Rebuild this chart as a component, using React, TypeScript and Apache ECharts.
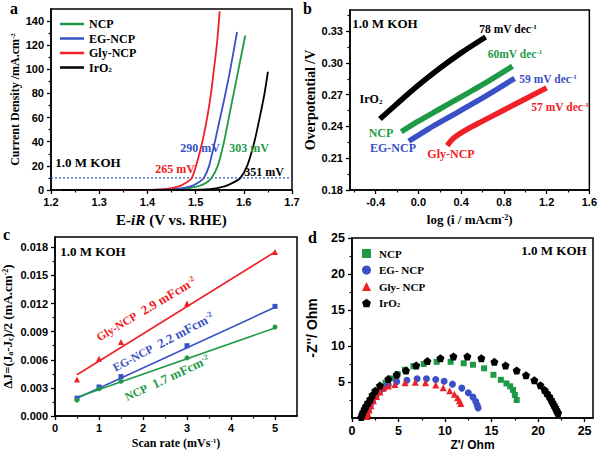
import React, { useEffect, useRef } from 'react';
import * as echarts from 'echarts';

const SERIF = "'Liberation Serif', 'Times New Roman', serif";
const SANS = "'Liberation Sans', Arial, sans-serif";
const GREEN = '#1e9a46';
const BLUE = '#3a50c6';
const RED = '#f02126';
const BLACK = '#000000';

// ---------- (a) polarization curves: [E-iR (V), J (mA/cm2)] ----------
const aNCP = [[1.22, 0], [1.42, 0.1], [1.47, 0.8], [1.5, 2.5], [1.52, 5.5], [1.533, 10], [1.546, 20], [1.559, 40], [1.569, 60], [1.579, 80], [1.589, 100], [1.603, 128]];
const aEG = [[1.22, 0], [1.41, 0.1], [1.46, 1], [1.49, 3], [1.505, 6], [1.517, 10], [1.528, 20], [1.54, 40], [1.551, 60], [1.562, 80], [1.572, 100], [1.586, 131]];
const aGly = [[1.22, 0], [1.39, 0.1], [1.44, 1], [1.465, 3], [1.48, 6], [1.492, 10], [1.501, 20], [1.514, 40], [1.524, 60], [1.532, 80], [1.538, 100], [1.544, 120], [1.55, 148]];
const aIrO2 = [[1.22, 0], [1.48, 0.1], [1.53, 0.8], [1.56, 3], [1.58, 6.5], [1.593, 10], [1.607, 20], [1.622, 40], [1.633, 60], [1.643, 80], [1.65, 98]];
const aRefLine = [[1.2, 10], [1.7, 10]];
const aXTicks = [1.2, 1.3, 1.4, 1.5, 1.6, 1.7];
const aXMinor = [1.25, 1.35, 1.45, 1.55, 1.65];
const aYTicks = [0, 20, 40, 60, 80, 100, 120, 140];
const aYMinor = [10, 30, 50, 70, 90, 110, 130];

// ---------- (b) Tafel plots: [log i, overpotential] ----------
const bIrO2 = [[-0.36, 0.247], [-0.2, 0.2615], [0, 0.279], [0.2, 0.295], [0.4, 0.3095], [0.63, 0.3245]];
const bNCP = [[-0.16, 0.235], [0, 0.245], [0.2, 0.2565], [0.4, 0.268], [0.6, 0.2795], [0.88, 0.297]];
const bEG = [[-0.09, 0.226], [0.1, 0.238], [0.3, 0.2495], [0.5, 0.261], [0.7, 0.273], [0.9, 0.2855]];
const bGly = [[0.27, 0.222], [0.33, 0.229], [0.45, 0.237], [0.6, 0.245], [0.8, 0.2555], [1.0, 0.266], [1.2, 0.2765]];
const bXTicks = [-0.4, 0, 0.4, 0.8, 1.2, 1.6];
const bXMinor = [-0.6, -0.2, 0.2, 0.6, 1.0, 1.4];
const bYTicks = [0.18, 0.21, 0.24, 0.27, 0.3, 0.33];
const bYMinor = [0.195, 0.225, 0.255, 0.285, 0.315, 0.345];

// ---------- (c) double-layer capacitance ----------
const cScanRates = [0.5, 1, 1.5, 3, 5];
const cGly = [0.0039, 0.0061, 0.0079, 0.012, 0.0175];
const cEG = [0.0019, 0.0031, 0.0042, 0.0075, 0.0117];
const cNCP = [0.0017, 0.0029, 0.0037, 0.0062, 0.0095];
const cFitX = [0.5, 5];
const cGlyFit = [0.0044, 0.0175];
const cEGFit = [0.0019, 0.0116];
const cNCPFit = [0.002, 0.0094];
const cXTicks = [0, 1, 2, 3, 4, 5];
const cXMinor = [0.5, 1.5, 2.5, 3.5, 4.5];
const cYTicks = [0, 0.003, 0.006, 0.009, 0.012, 0.015, 0.018];
const cYMinor = [0.0015, 0.0045, 0.0075, 0.0105, 0.0135, 0.0165];

// ---------- (d) Nyquist plots: [Z', -Z''] ----------
const dNCP = [[1.3, 0.3], [1.45, 0.8], [1.6, 1.3], [1.8, 1.8], [2.05, 2.4], [2.35, 3.0], [2.7, 3.6], [3.1, 4.2], [3.6, 4.9], [4.2, 5.5], [4.9, 6.1], [5.7, 6.7], [6.6, 7.2], [7.7, 7.5], [9.1, 7.8], [10.6, 7.8], [12.0, 7.6], [13.0, 7.4], [14.2, 6.9], [15.2, 6.0], [16.0, 5.3], [16.6, 4.8], [17.0, 4.4], [17.3, 3.9], [17.5, 3.2], [17.7, 2.5]];
const dEG = [[1.5, 0.2], [1.6, 0.6], [1.75, 1.1], [1.95, 1.7], [2.2, 2.3], [2.55, 3.0], [2.95, 3.6], [3.4, 4.1], [3.9, 4.6], [4.8, 5.05], [5.9, 5.25], [7.0, 5.45], [8.0, 5.45], [9.0, 5.35], [9.9, 5.1], [10.8, 4.7], [11.8, 4.15], [12.5, 3.5], [13.0, 2.9], [13.3, 2.3], [13.45, 1.8], [13.55, 1.4]];
const dGly = [[1.6, 0.2], [1.7, 0.6], [1.85, 1.1], [2.05, 1.7], [2.3, 2.4], [2.65, 3.0], [3.0, 3.6], [3.4, 4.2], [3.9, 4.45], [4.6, 4.65], [5.7, 4.9], [6.8, 4.95], [7.9, 4.9], [9.0, 4.6], [9.8, 4.2], [10.5, 3.8], [11.0, 3.3], [11.35, 2.8], [11.55, 2.4], [11.7, 2.0]];
const dIrO2 = [[1.0, 0.15], [1.1, 0.5], [1.2, 0.85], [1.35, 1.25], [1.5, 1.65], [1.7, 2.1], [1.95, 2.6], [2.2, 3.2], [2.5, 3.8], [3.0, 4.5], [3.9, 5.4], [4.8, 6.0], [5.8, 6.6], [6.9, 7.3], [8.1, 7.9], [9.5, 8.3], [10.9, 8.55], [12.4, 8.55], [13.9, 8.3], [15.3, 7.8], [16.5, 7.3], [17.7, 6.6], [18.7, 5.95], [19.6, 5.25], [20.25, 4.55], [20.7, 3.9], [20.95, 3.45], [21.2, 3.0], [21.4, 2.55], [21.55, 2.15], [21.7, 1.8], [21.85, 1.45], [21.95, 1.15], [22.05, 0.9], [22.15, 0.7]];
const dXTicks = [0, 5, 10, 15, 20, 25];
const dXMinor = [2.5, 7.5, 12.5, 17.5, 22.5];
const dYTicks = [5, 10, 15, 20, 25];
const dYMinor = [2.5, 7.5, 12.5, 17.5, 22.5];

function rich(size: number, family: string, color: string) {
  const s = Math.round(size * 0.62);
  const base = { fontFamily: family, fontWeight: 'bold', color, fill: color };
  return {
    sup: { ...base, fontSize: s, verticalAlign: 'top' },
    sub: { ...base, fontSize: s, verticalAlign: 'bottom' },
    it: { ...base, fontSize: size, fontStyle: 'italic' },
    n: { ...base, fontSize: size - 1.5 },
    v: { ...base, fontSize: size + 1 },
  };
}

function mkAxes(dim: 'x' | 'y', gridIndex: number, min: number, max: number, ticks: number[], minor: number[], fmt: (v: number) => string, labelSize: number, name: string, nameGap: number, nameFamily: string, nameSize: number) {
  const isY = dim === 'y';
  const position = isY ? 'left' : 'bottom';
  const main: any = {
    type: 'value', gridIndex, min, max, position,
    axisLine: { show: true, onZero: false, lineStyle: { color: '#000', width: 1.5 } },
    axisTick: { show: true, customValues: ticks, length: 4, lineStyle: { color: '#000', width: 1.3 } },
    axisLabel: { show: true, customValues: ticks, formatter: fmt, color: '#000', fontFamily: SANS, fontWeight: 'bold', fontSize: labelSize, margin: isY ? 7 : 6 },
    splitLine: { show: false },
    name, nameLocation: 'middle', nameGap, nameRotate: isY ? 90 : 0,
    nameTextStyle: { fontFamily: nameFamily, fontWeight: 'bold', fontSize: nameSize, color: '#000', rich: rich(nameSize, nameFamily, '#000') },
  };
  const mn: any = {
    type: 'value', gridIndex, min, max, position,
    axisLine: { show: false, onZero: false },
    axisTick: { show: true, customValues: minor, length: 2.5, lineStyle: { color: '#000', width: 1.2 } },
    axisLabel: { show: false },
    splitLine: { show: false },
  };
  return [main, mn];
}

function txt(x: number, y: number, text: string, fill: string, size: number, rotationDeg = 0, family = SERIF, align = 'center') {
  return {
    type: 'text', x, y, rotation: (rotationDeg * Math.PI) / 180, z: 100,
    style: { text, fill, fontFamily: family, fontWeight: 'bold', fontSize: size, align, verticalAlign: 'middle', rich: rich(size, family, fill) },
  };
}

const lineS = (name: string, data: number[][], color: string, xi: number, yi: number, width: number, smooth: number | boolean = 0.3) => ({
  type: 'line', name, data, xAxisIndex: xi, yAxisIndex: yi, symbol: 'none', smooth,
  lineStyle: { color, width }, itemStyle: { color }, z: 3,
});

const scatterS = (name: string, data: number[][], color: string, symbol: string, size: number, xi: number, yi: number) => ({
  type: 'scatter', name, data, xAxisIndex: xi, yAxisIndex: yi, symbol, symbolSize: size, itemStyle: { color, opacity: 1 }, z: 4,
});

const PENTAGON = 'path://M0,-10 L9.5,-3.1 L5.9,8.1 L-5.9,8.1 L-9.5,-3.1 Z';

export default function App() {
  const ref = useRef<HTMLDivElement>(null);
  useEffect(() => {
    if (!ref.current) return;
    const chart = echarts.init(ref.current, undefined, { renderer: 'svg' });
    const f1 = (v: number) => v.toFixed(1);
    const f2 = (v: number) => v.toFixed(2);
    const f3 = (v: number) => v.toFixed(3);
    const f0 = (v: number) => String(Math.round(v));

    const xAxis = [
      ...mkAxes('x', 0, 1.2, 1.7, aXTicks, aXMinor, f1, 11, 'E-{it|iR} (V vs. RHE)', 22, SERIF, 15),
      ...mkAxes('x', 1, -0.64, 1.6, bXTicks, bXMinor, f1, 11, 'log (i / mAcm{sup|-2})', 23, SERIF, 13),
      ...mkAxes('x', 2, 0, 5.5, cXTicks, cXMinor, f0, 11, 'Scan rate (mVs{sup|-1})', 21, SERIF, 12),
      ...mkAxes('x', 3, 0, 25.9, dXTicks, dXMinor, f0, 12.5, "Z'/ Ohm", 21, SANS, 12),
    ];
    const yAxis = [
      ...mkAxes('y', 0, 0, 150, aYTicks, aYMinor, f0, 11, 'Current Density /mA.cm{sup|-2}', 30, SERIF, 12),
      ...mkAxes('y', 1, 0.18, 0.35, bYTicks, bYMinor, f2, 11, 'Overpotential /V', 31, SERIF, 14),
      ...mkAxes('y', 2, 0, 0.0191, cYTicks, cYMinor, f3, 11, '\u0394J=(J{sub|a}-J{sub|c})/2 (mA.cm{sup|-2})', 41, SERIF, 13),
      ...mkAxes('y', 3, 0, 25, dYTicks, dYMinor, f0, 12.5, "-Z''/ Ohm", 33, SANS, 14),
    ];

    const series: any[] = [
      // (a)
      lineS('NCP', aNCP, GREEN, 0, 0, 1.8, 0.25),
      lineS('EG-NCP', aEG, BLUE, 0, 0, 1.8, 0.25),
      lineS('Gly-NCP', aGly, RED, 0, 0, 1.8, 0.25),
      lineS('IrO2', aIrO2, BLACK, 0, 0, 1.8, 0.25),
      { type: 'line', name: 'a-ref', data: aRefLine, xAxisIndex: 0, yAxisIndex: 0, symbol: 'none', lineStyle: { color: BLUE, width: 1.2, type: [2, 2] }, z: 2 },
      // (b)
      lineS('b-IrO2', bIrO2, BLACK, 2, 2, 5.5, 0.3),
      lineS('b-NCP', bNCP, GREEN, 2, 2, 5.5, 0.3),
      lineS('b-EG', bEG, BLUE, 2, 2, 5.5, 0.3),
      lineS('b-Gly', bGly, RED, 2, 2, 5.5, 0.3),
      // (c)
      lineS('c-Gly-fit', cFitX.map((x, i) => [x, cGlyFit[i]]), RED, 4, 4, 1.6, false),
      lineS('c-EG-fit', cFitX.map((x, i) => [x, cEGFit[i]]), BLUE, 4, 4, 1.6, false),
      lineS('c-NCP-fit', cFitX.map((x, i) => [x, cNCPFit[i]]), GREEN, 4, 4, 1.6, false),
      scatterS('c-Gly', cScanRates.map((x, i) => [x, cGly[i]]), RED, 'triangle', 6, 4, 4),
      scatterS('c-EG', cScanRates.map((x, i) => [x, cEG[i]]), BLUE, 'rect', 5, 4, 4),
      scatterS('c-NCP', cScanRates.map((x, i) => [x, cNCP[i]]), GREEN, 'circle', 5, 4, 4),
      // (d)
      scatterS('d:NCP', dNCP, GREEN, 'rect', 6, 6, 6),
      scatterS('d:EG- NCP', dEG, BLUE, 'circle', 7, 6, 6),
      scatterS('d:Gly- NCP', dGly, RED, 'triangle', 7, 6, 6),
      scatterS('d:IrO2', dIrO2, BLACK, PENTAGON, 8, 6, 6),
    ];

    const legendText = (size: number) => ({ fontFamily: SERIF, fontWeight: 'bold', fontSize: size, color: '#000', rich: rich(size, SERIF, '#000') });
    const fmtName = (name: string) => {
      const n = name.replace('d:', '');
      return n === 'IrO2' ? 'IrO{sub|2}' : n;
    };

    chart.setOption({
      animation: false,
      backgroundColor: '#ffffff',
      grid: [
        { left: 51, top: 9, width: 241, height: 181 },
        { left: 350, top: 10, width: 241, height: 180 },
        { left: 55, top: 237, width: 242, height: 179 },
        { left: 352, top: 238, width: 241, height: 180 },
      ].map((g) => ({ ...g, show: true, borderColor: '#000', borderWidth: 1.5, backgroundColor: 'transparent', containLabel: false })),
      xAxis,
      yAxis,
      legend: [
        {
          data: ['NCP', 'EG-NCP', 'Gly-NCP', 'IrO2'], orient: 'vertical', left: 55, top: 13, icon: 'rect',
          itemWidth: 24, itemHeight: 2.5, itemGap: 2.5, formatter: fmtName, textStyle: legendText(12), selectedMode: false,
        },
        {
          data: ['d:NCP', 'd:EG- NCP', 'd:Gly- NCP', 'd:IrO2'], orient: 'vertical', left: 357, top: 243,
          itemWidth: 9, itemHeight: 9, itemGap: 5.5, formatter: fmtName, textStyle: { ...legendText(11), padding: [0, 0, 0, 3] }, selectedMode: false,
        },
      ],
      series,
      graphic: [
        // panel letters
        txt(10, 8, 'a', BLACK, 16, 0, SERIF, 'left'),
        txt(303, 8, 'b', BLACK, 16, 0, SERIF, 'left'),
        txt(3, 234.5, 'c', BLACK, 16, 0, SERIF, 'left'),
        txt(308, 237.5, 'd', BLACK, 16, 0, SERIF, 'left'),
        // (a)
        txt(88, 162, '1.0 M KOH', BLACK, 13),
        txt(175, 169, '265 mV', RED, 12),
        txt(200, 148, '290 mV', BLUE, 12),
        txt(249, 148, '303 mV', GREEN, 12),
        txt(264, 172, '351 mV', BLACK, 12),
        // (b)
        txt(385, 23, '1.0 M KOH', BLACK, 13),
        txt(508, 29, '78 mV dec{sup|-1}', BLACK, 11.5),
        txt(515, 54, '60mV dec{sup|-1}', GREEN, 11.5),
        txt(548, 79, '59 mV dec{sup|-1}', BLUE, 11.5),
        txt(560, 107, '57 mV dec{sup|-1}', RED, 11.5),
        txt(371, 99, 'IrO{sub|2}', BLACK, 12),
        txt(381, 133, 'NCP', GREEN, 12),
        txt(393, 148, 'EG-NCP', BLUE, 12),
        txt(451, 154, 'Gly-NCP', RED, 12),
        // (c)
        txt(93, 251, '1.0 M KOH', BLACK, 13),
        txt(146, 309, '{n|Gly-NCP}  2.9 mFcm{sup|-2}', RED, 13, 31),
        txt(163, 342, '{n|EG-NCP}  2.2 mFcm{sup|-2}', BLUE, 13, 28),
        txt(167, 378, '{n|NCP}  1.7 mFcm{sup|-2}', GREEN, 13, 25),
        // (d)
        txt(554, 250, '1.0 M KOH', BLACK, 13),
      ],
    });
    return () => chart.dispose();
  }, []);
  return <div ref={ref} style={{ position: 'absolute', left: 0, top: 0, width: 600, height: 455 }} />;
}
